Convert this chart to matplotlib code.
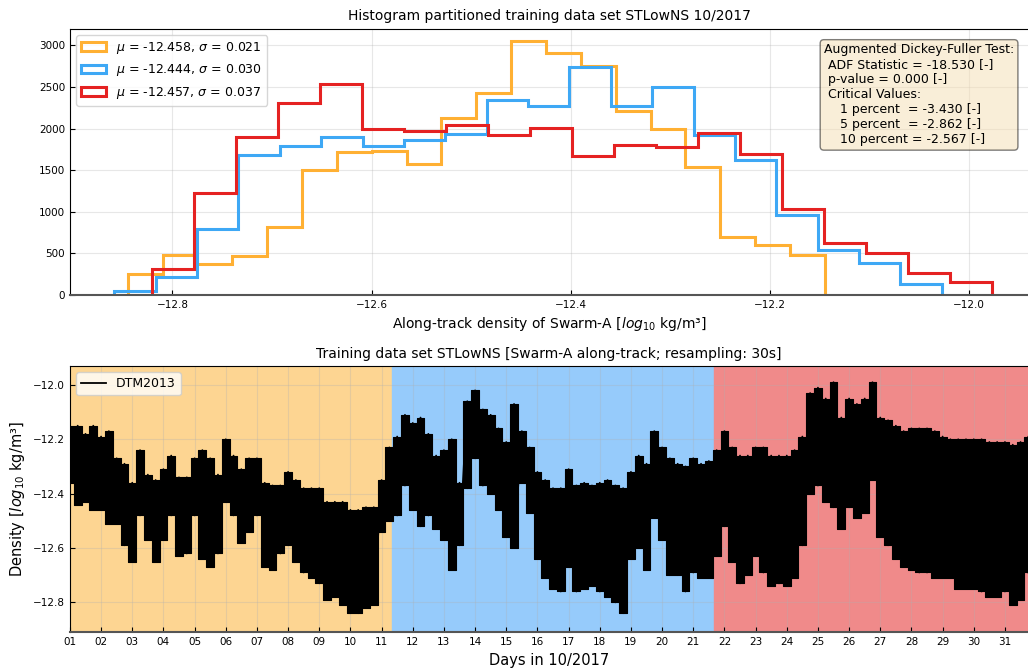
import numpy as np
import pandas as pd
import matplotlib
matplotlib.use('Agg')
import matplotlib.pyplot as plt
import matplotlib.dates as mdates

# histogram counts per partition (20 bins each)
counts_p1 = [249, 481, 373, 469, 814, 1504, 1716, 1732, 1572, 2133,
             2426, 3048, 2907, 2755, 2217, 1993, 1544, 702, 601, 481]
counts_p2 = [52, 220, 790, 1684, 1792, 1897, 1792, 1865, 1933, 2346,
             2274, 2735, 2274, 2498, 1925, 1624, 962, 541, 381, 128]
counts_p3 = [309, 1231, 1901, 2306, 2534, 1993, 1977, 2045, 1925, 2013,
             1672, 1805, 1776, 1945, 1696, 1035, 622, 509, 261, 160]
range_p1 = (-12.845, -12.145)
range_p2 = (-12.8585, -12.0275)
range_p3 = (-12.8207, -11.9767)
labels = [r'$\mu$ = -12.458, $\sigma$ = 0.021',
          r'$\mu$ = -12.444, $\sigma$ = 0.030',
          r'$\mu$ = -12.457, $\sigma$ = 0.037']

adf_text = ('Augmented Dickey-Fuller Test:\n'
            ' ADF Statistic = -18.530 [-]\n'
            ' p-value = 0.000 [-]\n'
            ' Critical Values:\n'
            '    1 percent  = -3.430 [-]\n'
            '    5 percent  = -2.862 [-]\n'
            '    10 percent = -2.567 [-]')

# density envelope (upper / lower) every 6 hours, day of October 2017
day = np.arange(1.0, 31.76, 0.25)
dens_upper = [-12.15, -12.15, -12.18, -12.15, -12.19, -12.17, -12.27, -12.29,
              -12.36, -12.24, -12.33, -12.35, -12.31, -12.26, -12.34, -12.34,
              -12.27, -12.24, -12.27, -12.33, -12.20, -12.26, -12.31, -12.27,
              -12.27, -12.36, -12.37, -12.37, -12.32, -12.35, -12.38, -12.38,
              -12.38, -12.43, -12.43, -12.43, -12.46, -12.46, -12.45, -12.45,
              -12.35, -12.23, -12.19, -12.11, -12.14, -12.12, -12.18, -12.26,
              -12.24, -12.20, -12.36, -12.06, -12.02, -12.09, -12.11, -12.16,
              -12.21, -12.07, -12.17, -12.23, -12.32, -12.35, -12.38, -12.38,
              -12.31, -12.37, -12.36, -12.37, -12.36, -12.35, -12.37, -12.38,
              -12.32, -12.26, -12.29, -12.17, -12.23, -12.27, -12.29, -12.30,
              -12.27, -12.29, -12.28, -12.24, -12.17, -12.23, -12.26, -12.26,
              -12.23, -12.23, -12.26, -12.26, -12.26, -12.24, -12.19, -12.03,
              -12.01, -12.05, -11.99, -12.12, -12.05, -12.07, -12.05, -11.99,
              -12.12, -12.13, -12.15, -12.17, -12.16, -12.16, -12.16, -12.17,
              -12.19, -12.20, -12.20, -12.20, -12.20, -12.20, -12.21, -12.21,
              -12.21, -12.22, -12.21, -12.19]
dens_lower = [-12.36, -12.44, -12.43, -12.46, -12.46, -12.51, -12.51, -12.59,
              -12.65, -12.48, -12.57, -12.65, -12.57, -12.48, -12.63, -12.62,
              -12.48, -12.64, -12.67, -12.62, -12.43, -12.48, -12.58, -12.54,
              -12.48, -12.67, -12.68, -12.62, -12.59, -12.65, -12.69, -12.71,
              -12.73, -12.79, -12.78, -12.81, -12.84, -12.84, -12.82, -12.81,
              -12.54, -12.50, -12.48, -12.37, -12.46, -12.52, -12.48, -12.53,
              -12.57, -12.68, -12.59, -12.38, -12.27, -12.37, -12.40, -12.46,
              -12.56, -12.60, -12.36, -12.47, -12.64, -12.71, -12.75, -12.76,
              -12.67, -12.76, -12.75, -12.74, -12.76, -12.78, -12.80, -12.84,
              -12.64, -12.60, -12.68, -12.49, -12.57, -12.70, -12.70, -12.76,
              -12.69, -12.71, -12.71, -12.63, -12.52, -12.65, -12.73, -12.70,
              -12.63, -12.69, -12.74, -12.73, -12.74, -12.71, -12.59, -12.40,
              -12.37, -12.43, -12.45, -12.53, -12.45, -12.49, -12.47, -12.35,
              -12.56, -12.59, -12.64, -12.67, -12.68, -12.69, -12.69, -12.71,
              -12.71, -12.71, -12.75, -12.75, -12.75, -12.76, -12.78, -12.78,
              -12.76, -12.81, -12.79, -12.69]
partitions = ['2017-10-01 00:00', '2017-10-11 08:00', '2017-10-21 16:00', '2017-11-01 00:00']

c_orange, c_blue, c_red = '#ffb033', '#3ea8f5', '#e52222'
span_colors = ['#fdd592', '#96cbfb', '#f08a8a']

plt.rcParams['font.family'] = 'DejaVu Sans'
fig = plt.figure(figsize=(10.28, 6.69), dpi=100)
ax1 = fig.add_axes([0.068, 0.559, 0.932, 0.398])
ax2 = fig.add_axes([0.068, 0.055, 0.932, 0.398])

# top: step histograms
for counts, rng, col, lab in zip([counts_p1, counts_p2, counts_p3],
                                 [range_p1, range_p2, range_p3],
                                 [c_orange, c_blue, c_red], labels):
    edges = np.linspace(rng[0], rng[1], len(counts) + 1)
    ax1.hist(edges[:-1], bins=edges, weights=counts, histtype='step',
             color=col, lw=2.2, label=lab)
ax1.set_xlim(-12.903, -11.941)
ax1.set_ylim(0, 3200)
ax1.set_yticks(np.arange(0, 3001, 500))
ax1.set_title('Histogram partitioned training data set STLowNS 10/2017', fontsize=10)
ax1.set_xlabel('Along-track density of Swarm-A [$log_{10}$ kg/m³]', fontsize=10)
ax1.legend(loc='upper left', fontsize=9, handlelength=2.0)
ax1.text(0.787, 0.945, adf_text, transform=ax1.transAxes, va='top', ha='left',
         fontsize=9, bbox=dict(boxstyle='round', facecolor='wheat', alpha=0.5))

# bottom: time series with partitions shaded
t = pd.Timestamp('2017-10-01') + pd.to_timedelta(day - 1, unit='D')
# vertical strokes: upper -> lower at each sample time
t_zz = np.repeat(t.values, 2)
zz = np.empty(2 * len(t))
zz[0::2] = dens_upper
zz[1::2] = dens_lower

bounds = pd.to_datetime(partitions)
for i in range(3):
    ax2.axvspan(bounds[i], bounds[i + 1], color=span_colors[i], zorder=0)
ax2.fill_between(t, dens_lower, dens_upper, step='mid', color='black', lw=0.8,
                 edgecolor='black', zorder=2)
ax2.plot(t_zz, zz, color='black', lw=1.3, label='DTM2013', zorder=3)
ax2.set_xlim(pd.Timestamp('2017-10-01'), pd.Timestamp('2017-10-31 17:45'))
ax2.set_ylim(-12.91, -11.93)
ax2.set_yticks([-12.0, -12.2, -12.4, -12.6, -12.8])
ax2.xaxis.set_major_locator(mdates.DayLocator())
ax2.xaxis.set_major_formatter(mdates.DateFormatter('%d'))
ax2.set_title('Training data set STLowNS [Swarm-A along-track; resampling: 30s]', fontsize=10)
ax2.set_xlabel('Days in 10/2017', fontsize=10.5)
ax2.set_ylabel('Density [$log_{10}$ kg/m³]', fontsize=10.5)
ax2.legend(loc='upper left', fontsize=9)

for ax in (ax1, ax2):
    ax.tick_params(direction='in', labelsize=7.5)
    ax.set_axisbelow(True)
    ax.grid(True, color='#b0b0b0', alpha=0.3, lw=0.8)
    ax.spines['right'].set_visible(False)
    ax.spines['bottom'].set_color('#555555')
    ax.spines['bottom'].set_linewidth(1.5)

fig.savefig('out.png', dpi=100)
